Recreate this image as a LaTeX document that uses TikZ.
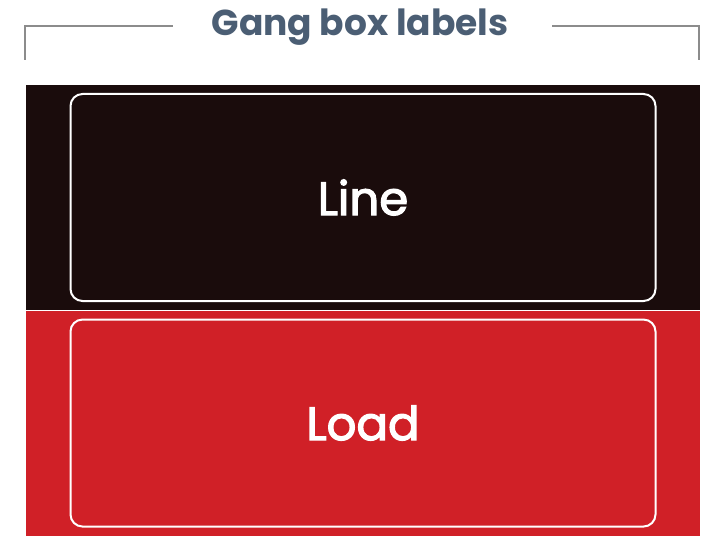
\documentclass[tikz,border=0pt]{standalone}
\usepackage{fontspec}
\setmainfont{Poppins}
\newfontfamily\labelfont[FakeBold=2.5]{Poppins}
\usetikzlibrary{positioning}
\definecolor{bandblack}{HTML}{1A0C0C}
\definecolor{bandred}{HTML}{D02027}
\definecolor{titlegray}{HTML}{4B5E74}
\definecolor{bracketgray}{HTML}{8C8C8C}
\tikzset
{
band/.style={draw=none, inner sep=0, minimum width=505.5pt, minimum height=168.75pt},
gang/.style={draw=white, line width=1.5pt, rounded corners=9pt, inner sep=0,
	minimum width=438.75pt, minimum height=155.25pt, text=white,
	font=\labelfont\fontsize{35}{40}\selectfont},
bracket/.style={draw=bracketgray, line width=1.5pt}
}
\begin{document}
\begin{tikzpicture}[x=0.75pt, y=-0.75pt]
	\useasboundingbox[fill=white] (0,0) rectangle (721,549);

	% title and bracket
	\node[text=titlegray, font=\bfseries\fontsize{27}{30}\selectfont, anchor=base] (title) at (360,36) {Gang box labels};
	\coordinate (lefttick) at (25,60);
	\coordinate (leftcorner) at (25,26);
	\coordinate (leftend) at (173,26);
	\coordinate (righttick) at (699,60);
	\coordinate (rightcorner) at (699,26);
	\coordinate (rightend) at (552,26);
	\draw[bracket] (lefttick) -- (leftcorner) -- (leftend);
	\draw[bracket] (righttick) -- (rightcorner) -- (rightend);

	% bands
	\node[band, fill=bandblack] (lineband) at (363,197.5) {};
	\node[band, fill=bandred, below=0pt of lineband] (loadband) {};

	% labels
	\node[gang] (linebox) at (lineband.center) {Line};
	\node[gang] (loadbox) at (loadband.center) {Load};
\end{tikzpicture}
\end{document}
